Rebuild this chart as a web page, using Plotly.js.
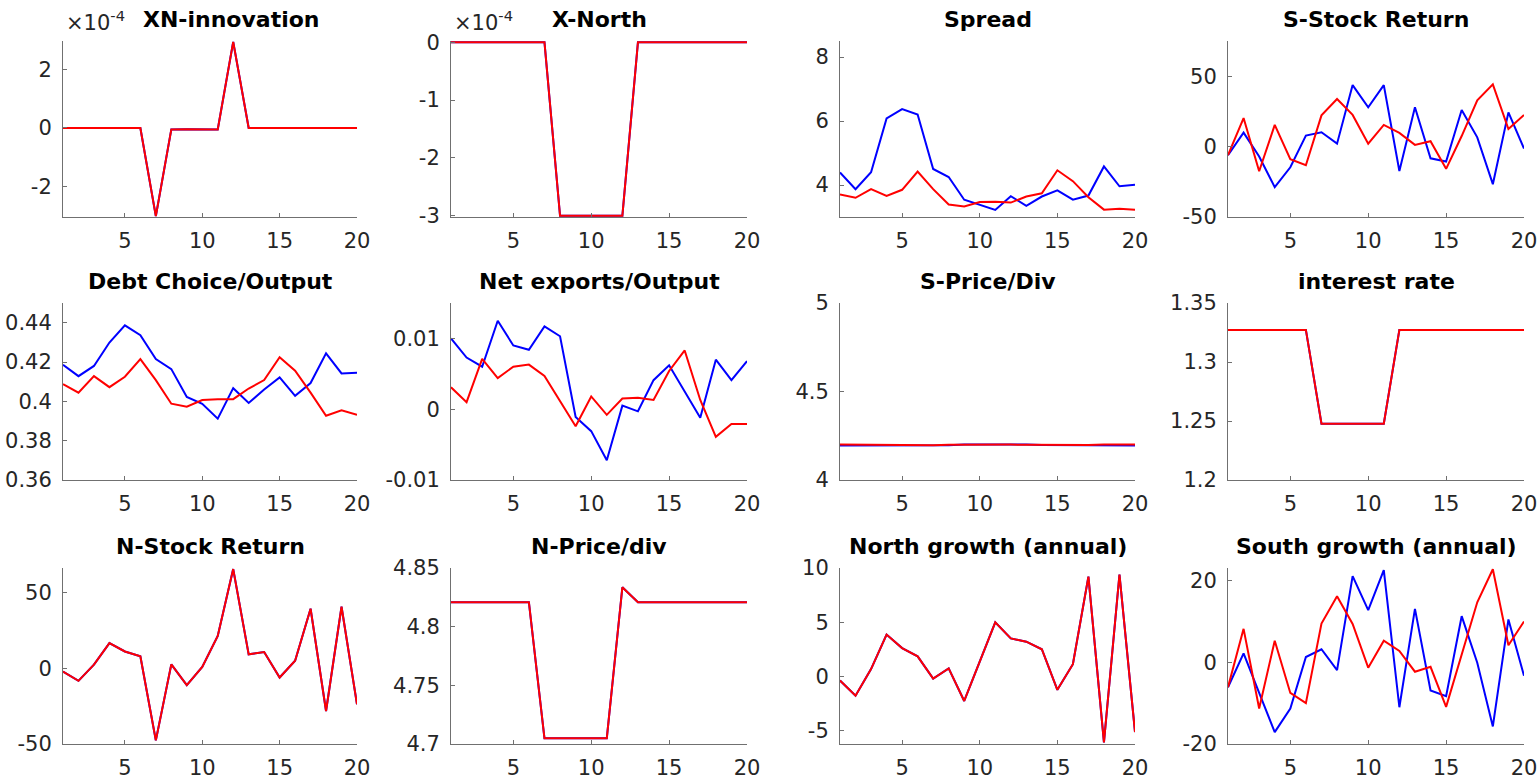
<!DOCTYPE html>
<html>
<head>
<meta charset="utf-8">
<script src="https://cdn.plot.ly/plotly-3.0.1.min.js"></script>
<style>html,body{margin:0;padding:0;background:#fff;}#chart{width:1539px;height:784px;}</style>
</head>
<body>
<div id="chart"></div>
<script>
// ---------- data ----------
const periods = [1,2,3,4,5,6,7,8,9,10,11,12,13,14,15,16,17,18,19,20];

const titles = ["XN-innovation","X-North","Spread","S-Stock Return",
  "Debt Choice/Output","Net exports/Output","S-Price/Div","interest rate",
  "N-Stock Return","N-Price/div","North growth (annual)","South growth (annual)"];

const xnInnovBlue = [0,0,0,0,0,0,-3.03e-4,-0.05e-4,-0.04e-4,-0.04e-4,-0.05e-4,2.96e-4,0,0,0,0,0,0,0,0];
const xnInnovRed  = [0,0,0,0,0,0,-3.03e-4,-0.05e-4,-0.04e-4,-0.04e-4,-0.05e-4,2.96e-4,0,0,0,0,0,0,0,0];

const xNorthBlue = [0,0,0,0,0,0,0,-3e-4,-3e-4,-3e-4,-3e-4,-3e-4,0,0,0,0,0,0,0,0];
const xNorthRed  = [0,0,0,0,0,0,0,-3e-4,-3e-4,-3e-4,-3e-4,-3e-4,0,0,0,0,0,0,0,0];

const spreadBlue = [4.39,3.87,4.40,6.08,6.37,6.20,4.50,4.25,3.54,3.39,3.22,3.65,3.35,3.64,3.83,3.54,3.67,4.58,3.96,4.01];
const spreadRed  = [3.70,3.60,3.87,3.66,3.85,4.42,3.87,3.39,3.33,3.47,3.48,3.45,3.64,3.74,4.46,4.12,3.62,3.23,3.26,3.23];

const sStockBlue = [-6.1,9.9,-7,-28.8,-14.7,7.8,10.2,2.1,43.7,27.9,43.7,-17.3,27.9,-8.3,-10.6,26.0,6.6,-26.7,24.3,-1.4];
const sStockRed  = [-6.1,20.3,-17.5,15.4,-9.0,-13.2,22.2,33.8,22.5,2.1,15.4,9.7,1.2,3.8,-15.8,7.5,32.9,44.2,12.5,22.5];

const debtBlue = [0.4186,0.4128,0.4180,0.4299,0.4386,0.4336,0.4215,0.4164,0.4022,0.3987,0.3912,0.4067,0.3992,0.4060,0.4122,0.4028,0.4093,0.4244,0.4142,0.4145];
const debtRed  = [0.4087,0.4044,0.4128,0.4072,0.4125,0.4215,0.4108,0.3988,0.3973,0.4007,0.4011,0.4011,0.4065,0.4108,0.4224,0.4156,0.4044,0.3927,0.3954,0.3931];

const nxBlue = [0.0100,0.0073,0.0060,0.0125,0.0090,0.0084,0.0117,0.0103,-0.0011,-0.0031,-0.0072,0.0005,-0.0003,0.0041,0.0062,0.0025,-0.0012,0.0070,0.0041,0.0068];
const nxRed  = [0.0031,0.0010,0.0071,0.0044,0.0060,0.0063,0.0047,0.0011,-0.0024,0.0018,-0.0008,0.0015,0.0016,0.0013,0.0054,0.0083,0.0013,-0.0039,-0.0021,-0.0021];

const sPdBlue = [4.195,4.195,4.196,4.196,4.195,4.195,4.194,4.196,4.200,4.201,4.202,4.200,4.200,4.198,4.197,4.198,4.199,4.196,4.196,4.195];
const sPdRed  = [4.200,4.199,4.198,4.197,4.197,4.198,4.197,4.199,4.200,4.200,4.200,4.200,4.199,4.198,4.196,4.195,4.198,4.200,4.201,4.201];

const rateBlue = [1.3272,1.3272,1.3272,1.3272,1.3272,1.3272,1.2477,1.2477,1.2477,1.2477,1.2477,1.3272,1.3272,1.3272,1.3272,1.3272,1.3272,1.3272,1.3272,1.3272];
const rateRed  = [1.3272,1.3272,1.3272,1.3272,1.3272,1.3272,1.2477,1.2477,1.2477,1.2477,1.2477,1.3272,1.3272,1.3272,1.3272,1.3272,1.3272,1.3272,1.3272,1.3272];

const nStockBlue = [-2.2,-8.3,2.4,16.6,11.1,7.9,-47.6,2.6,-11.1,0.9,21.4,65.5,9.2,10.7,-6.1,5.0,39.3,-28.2,40.6,-23.8];
const nStockRed  = [-2.2,-8.3,2.4,16.6,11.1,7.9,-47.6,2.6,-11.1,0.9,21.4,65.5,9.2,10.7,-6.1,5.0,39.3,-28.2,40.6,-23.8];

const nPdBlue = [4.8208,4.8208,4.8208,4.8208,4.8208,4.8208,4.7048,4.7048,4.7048,4.7048,4.7048,4.8336,4.8208,4.8208,4.8208,4.8208,4.8208,4.8208,4.8208,4.8208];
const nPdRed  = [4.8208,4.8208,4.8208,4.8208,4.8208,4.8208,4.7048,4.7048,4.7048,4.7048,4.7048,4.8336,4.8208,4.8208,4.8208,4.8208,4.8208,4.8208,4.8208,4.8208];

const northBlue = [-0.36,-1.75,0.70,3.87,2.63,1.87,-0.18,0.76,-2.24,1.4,5.0,3.52,3.22,2.52,-1.21,1.15,9.2,-6.05,9.4,-5.1];
const northRed  = [-0.36,-1.75,0.70,3.87,2.63,1.87,-0.18,0.76,-2.24,1.4,5.0,3.52,3.22,2.52,-1.21,1.15,9.2,-6.05,9.4,-5.1];

const southBlue = [-6.1,2.2,-7.5,-17.1,-11.3,1.3,3.2,-1.9,21.1,12.8,22.6,-11.0,13.1,-6.9,-8.3,11.3,-0.1,-15.7,10.5,-3.3];
const southRed  = [-6.1,8.2,-11.3,5.3,-7.5,-10.0,9.5,16.2,9.4,-1.3,5.3,2.8,-2.3,-1.1,-10.9,2.0,14.7,22.8,4.2,10.0];

const blueSeries = [xnInnovBlue,xNorthBlue,spreadBlue,sStockBlue,debtBlue,nxBlue,sPdBlue,rateBlue,nStockBlue,nPdBlue,northBlue,southBlue];
const redSeries  = [xnInnovRed,xNorthRed,spreadRed,sStockRed,debtRed,nxRed,sPdRed,rateRed,nStockRed,nPdRed,northRed,southRed];

const yRanges = [[-3.06e-4,2.99e-4],[-3.02e-4,0.02e-4],[3,8.5],[-50,75],[0.36,0.45],[-0.01,0.015],[4,5],[1.2,1.35],[-50,66.2],[4.7,4.85],[-6.2,10],[-20,23.1]];
const yTickVals = [[-2e-4,0,2e-4],[-3e-4,-2e-4,-1e-4,0],[4,6,8],[-50,0,50],[0.36,0.38,0.40,0.42,0.44],[-0.01,0,0.01],[4,4.5,5],[1.2,1.25,1.3,1.35],[-50,0,50],[4.7,4.75,4.8,4.85],[-5,0,5,10],[-20,0,20]];
const yTickText = [["-2","0","2"],["-3","-2","-1","0"],["4","6","8"],["-50","0","50"],["0.36","0.38","0.4","0.42","0.44"],["-0.01","0","0.01"],["4","4.5","5"],["1.2","1.25","1.3","1.35"],["-50","0","50"],["4.7","4.75","4.8","4.85"],["-5","0","5","10"],["-20","0","20"]];
const xTickVals = [5,10,15,20];
const xTickText = ["5","10","15","20"];
const exponentLabel = "×10<sup>-4</sup>";

// ---------- layout geometry (pixels) ----------
const W = 1539, H = 784;
const colPx = [[63,357],[451,747],[840,1135],[1228,1524]];
const rowPx = [[41,217],[303,480],[568,744]];
const titleY = [19,282,546];
const titleXOverride = {0:231};

const FONT = "DejaVu Sans";
const AXC = "#707070";
const traces = [];
const layout = {
  width: W, height: H,
  margin: {l:0,r:0,t:0,b:0},
  paper_bgcolor: "#ffffff", plot_bgcolor: "#ffffff",
  showlegend: false,
  font: {family: FONT, size: 21, color: "#262626"},
  annotations: []
};

for (let i = 0; i < 12; i++) {
  const r = Math.floor(i/4), c = i % 4;
  const n = i + 1;
  const xa = "xaxis" + (n === 1 ? "" : n), ya = "yaxis" + (n === 1 ? "" : n);
  const xr = "x" + (n === 1 ? "" : n), yr = "y" + (n === 1 ? "" : n);
  traces.push({x: periods, y: blueSeries[i], xaxis: xr, yaxis: yr, mode: "lines", line: {color: "#0000ff", width: 2}, hoverinfo: "skip"});
  traces.push({x: periods, y: redSeries[i], xaxis: xr, yaxis: yr, mode: "lines", line: {color: "#ff0000", width: 2}, hoverinfo: "skip"});
  layout[xa] = {
    domain: [colPx[c][0]/W, colPx[c][1]/W],
    anchor: yr, range: [1,20], fixedrange: true,
    tickvals: xTickVals, ticktext: xTickText,
    ticks: "inside", ticklen: 4, tickcolor: AXC, tickwidth: 1,
    showline: true, linecolor: AXC, linewidth: 1,
    showgrid: false, zeroline: false,
    tickfont: {family: FONT, size: 21, color: "#262626"},
    ticklabelstandoff: 5
  };
  layout[ya] = {
    domain: [1 - rowPx[r][1]/H, 1 - rowPx[r][0]/H],
    anchor: xr, range: yRanges[i], fixedrange: true,
    tickvals: yTickVals[i], ticktext: yTickText[i],
    ticks: "inside", ticklen: 4, tickcolor: AXC, tickwidth: 1,
    showline: true, linecolor: AXC, linewidth: 1,
    showgrid: false, zeroline: false,
    tickfont: {family: FONT, size: 21, color: "#262626"},
    ticklabelstandoff: 6
  };
  const tx = (titleXOverride[i] !== undefined ? titleXOverride[i] : (colPx[c][0] + colPx[c][1]) / 2);
  layout.annotations.push({
    text: "<b>" + titles[i] + "</b>", xref: "paper", yref: "paper",
    x: tx / W, y: 1 - titleY[r] / H, xanchor: "center", yanchor: "middle",
    showarrow: false, font: {family: FONT, size: 22, color: "#000000"}
  });
}
// exponent labels for the first two panels
[0,1].forEach(function(c){
  layout.annotations.push({
    text: exponentLabel, xref: "paper", yref: "paper",
    x: (colPx[c][0] + 1) / W, y: 1 - 37 / H, xanchor: "left", yanchor: "bottom",
    showarrow: false, font: {family: FONT, size: 21, color: "#262626"}
  });
});

Plotly.newPlot("chart", traces, layout, {staticPlot: true, displayModeBar: false});
</script>
</body>
</html>
